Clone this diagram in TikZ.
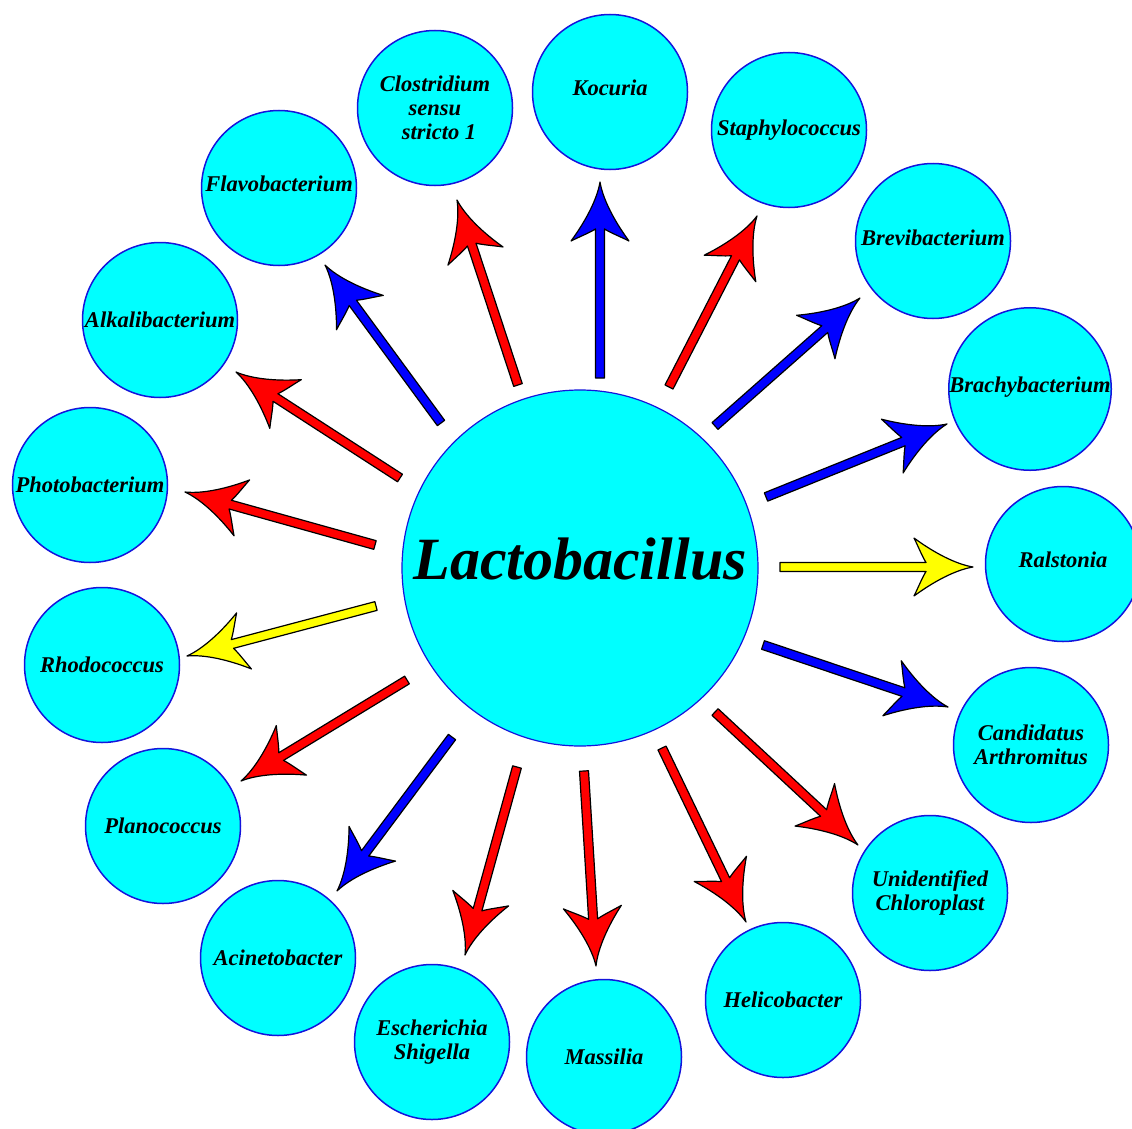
\documentclass[tikz,border=0pt]{standalone}
\usepackage{fontspec}
\setmainfont{Liberation Serif}[BoldItalicFont={Liberation Serif Bold Italic}]
\usetikzlibrary{calc}
\definecolor{cyanfill}{RGB}{0,255,255}
\definecolor{ringblue}{RGB}{20,20,220}
\definecolor{arrred}{RGB}{255,0,0}
\definecolor{arrblue}{RGB}{0,0,255}
\definecolor{arryellow}{RGB}{255,255,0}
\tikzset{
  bug/.style={circle, fill=cyanfill, draw=ringblue, line width=1.5pt,
    minimum size=155pt, inner sep=0pt, align=center,
    font=\fontsize{22.5}{24}\selectfont\bfseries\itshape},
  hub/.style={circle, fill=cyanfill, draw=ringblue, line width=1.2pt,
    minimum size=356pt, inner sep=0pt},
  hubtext/.style={font=\fontsize{60}{60}\selectfont\bfseries\itshape, inner sep=0pt},
  arrowline/.style={draw=black, line width=1.2pt, line join=round}
}
% #1 start coordinate, #2 tip coordinate, #3 colour
\newcommand{\fatarr}[3]{%
  \filldraw[arrowline, fill=#3]
   ($(#1)!4.5pt!-90:(#2)$) --
   ($(#2)!47pt!(#1)!4.5pt!90:(#1)$)
     .. controls ($(#2)!51pt!(#1)!11pt!90:(#1)$) and ($(#2)!55pt!(#1)!21pt!90:(#1)$) ..
   ($(#2)!59pt!(#1)!29pt!90:(#1)$)
     .. controls ($(#2)!40pt!(#1)!15pt!90:(#1)$) and ($(#2)!18pt!(#1)!3pt!90:(#1)$) ..
   (#2)
     .. controls ($(#2)!18pt!(#1)!3pt!-90:(#1)$) and ($(#2)!40pt!(#1)!15pt!-90:(#1)$) ..
   ($(#2)!59pt!(#1)!29pt!-90:(#1)$)
     .. controls ($(#2)!55pt!(#1)!21pt!-90:(#1)$) and ($(#2)!51pt!(#1)!11pt!-90:(#1)$) ..
   ($(#2)!47pt!(#1)!4.5pt!-90:(#1)$) --
   ($(#1)!4.5pt!90:(#2)$) -- cycle;
}
\begin{document}
\begin{tikzpicture}[x=1pt, y=-1pt]
\useasboundingbox (0,0) rectangle (1132,1129);
\clip (0,0) rectangle (1132,1129);

% centre
\node[hub] (lacto) at (580,568) {};
\node[hubtext] (lactotext) at (580,559) {Lactobacillus};

% outer circles
\node[bug] (kocuria) at (610,92) {Kocuria\rule[-8pt]{0pt}{8pt}};
\node[bug] (staph) at (789,130) {Staphylococcus};
\node[bug] (brevi) at (933,241) {Brevibacterium\rule[-6pt]{0pt}{6pt}};
\node[bug] (brachy) at (1030,389) {Brachybacterium\rule[-8pt]{0pt}{8pt}};
\node[bug] (ralst) at (1063,564) {Ralstonia\rule[-8pt]{0pt}{8pt}};
\node[bug] (candid) at (1031,745) {Candidatus\\Arthromitus};
\node[bug] (unid) at (930,893) {Unidentified\\Chloroplast};
\node[bug] (helico) at (783,1000) {Helicobacter};
\node[bug] (massil) at (604,1057) {Massilia};
\node[bug] (escher) at (432,1042) {Escherichia\\Shigella};
\node[bug] (acinet) at (278,958) {Acinetobacter};
\node[bug] (planoc) at (163,826) {Planococcus};
\node[bug] (rhodoc) at (102,665) {Rhodococcus};
\node[bug] (photob) at (90,485) {Photobacterium};
\node[bug] (alkali) at (160,320) {Alkalibacterium};
\node[bug] (flavob) at (279,188) {Flavobacterium\rule[-8pt]{0pt}{8pt}};
\node[bug] (clostr) at (435,108) {Clostridium\\sensu\\\hspace*{8pt}stricto 1};

% arrow end points
\coordinate (s1) at (600,378);  \coordinate (t1) at (600,182);
\coordinate (s2) at (669,387);  \coordinate (t2) at (757,216);
\coordinate (s3) at (715,426);  \coordinate (t3) at (860,298);
\coordinate (s4) at (766,497);  \coordinate (t4) at (947,424);
\coordinate (s5) at (780,567);  \coordinate (t5) at (973,567);
\coordinate (s6) at (763,645);  \coordinate (t6) at (948,707);
\coordinate (s7) at (715,712);  \coordinate (t7) at (858,845);
\coordinate (s8) at (662,748);  \coordinate (t8) at (746,922);
\coordinate (s9) at (584,771);  \coordinate (t9) at (596,966);
\coordinate (s10) at (517,767); \coordinate (t10) at (465,955);
\coordinate (s11) at (452,737); \coordinate (t11) at (337,891);
\coordinate (s12) at (407,680); \coordinate (t12) at (241,781);
\coordinate (s13) at (376,606); \coordinate (t13) at (187,656);
\coordinate (s14) at (375,545); \coordinate (t14) at (185,492);
\coordinate (s15) at (400,478); \coordinate (t15) at (236,372);
\coordinate (s16) at (441,423); \coordinate (t16) at (325,265);
\coordinate (s17) at (518,385); \coordinate (t17) at (457,200);

\fatarr{s1}{t1}{arrblue}
\fatarr{s2}{t2}{arrred}
\fatarr{s3}{t3}{arrblue}
\fatarr{s4}{t4}{arrblue}
\fatarr{s5}{t5}{arryellow}
\fatarr{s6}{t6}{arrblue}
\fatarr{s7}{t7}{arrred}
\fatarr{s8}{t8}{arrred}
\fatarr{s9}{t9}{arrred}
\fatarr{s10}{t10}{arrred}
\fatarr{s11}{t11}{arrblue}
\fatarr{s12}{t12}{arrred}
\fatarr{s13}{t13}{arryellow}
\fatarr{s14}{t14}{arrred}
\fatarr{s15}{t15}{arrred}
\fatarr{s16}{t16}{arrblue}
\fatarr{s17}{t17}{arrred}
\end{tikzpicture}
\end{document}
